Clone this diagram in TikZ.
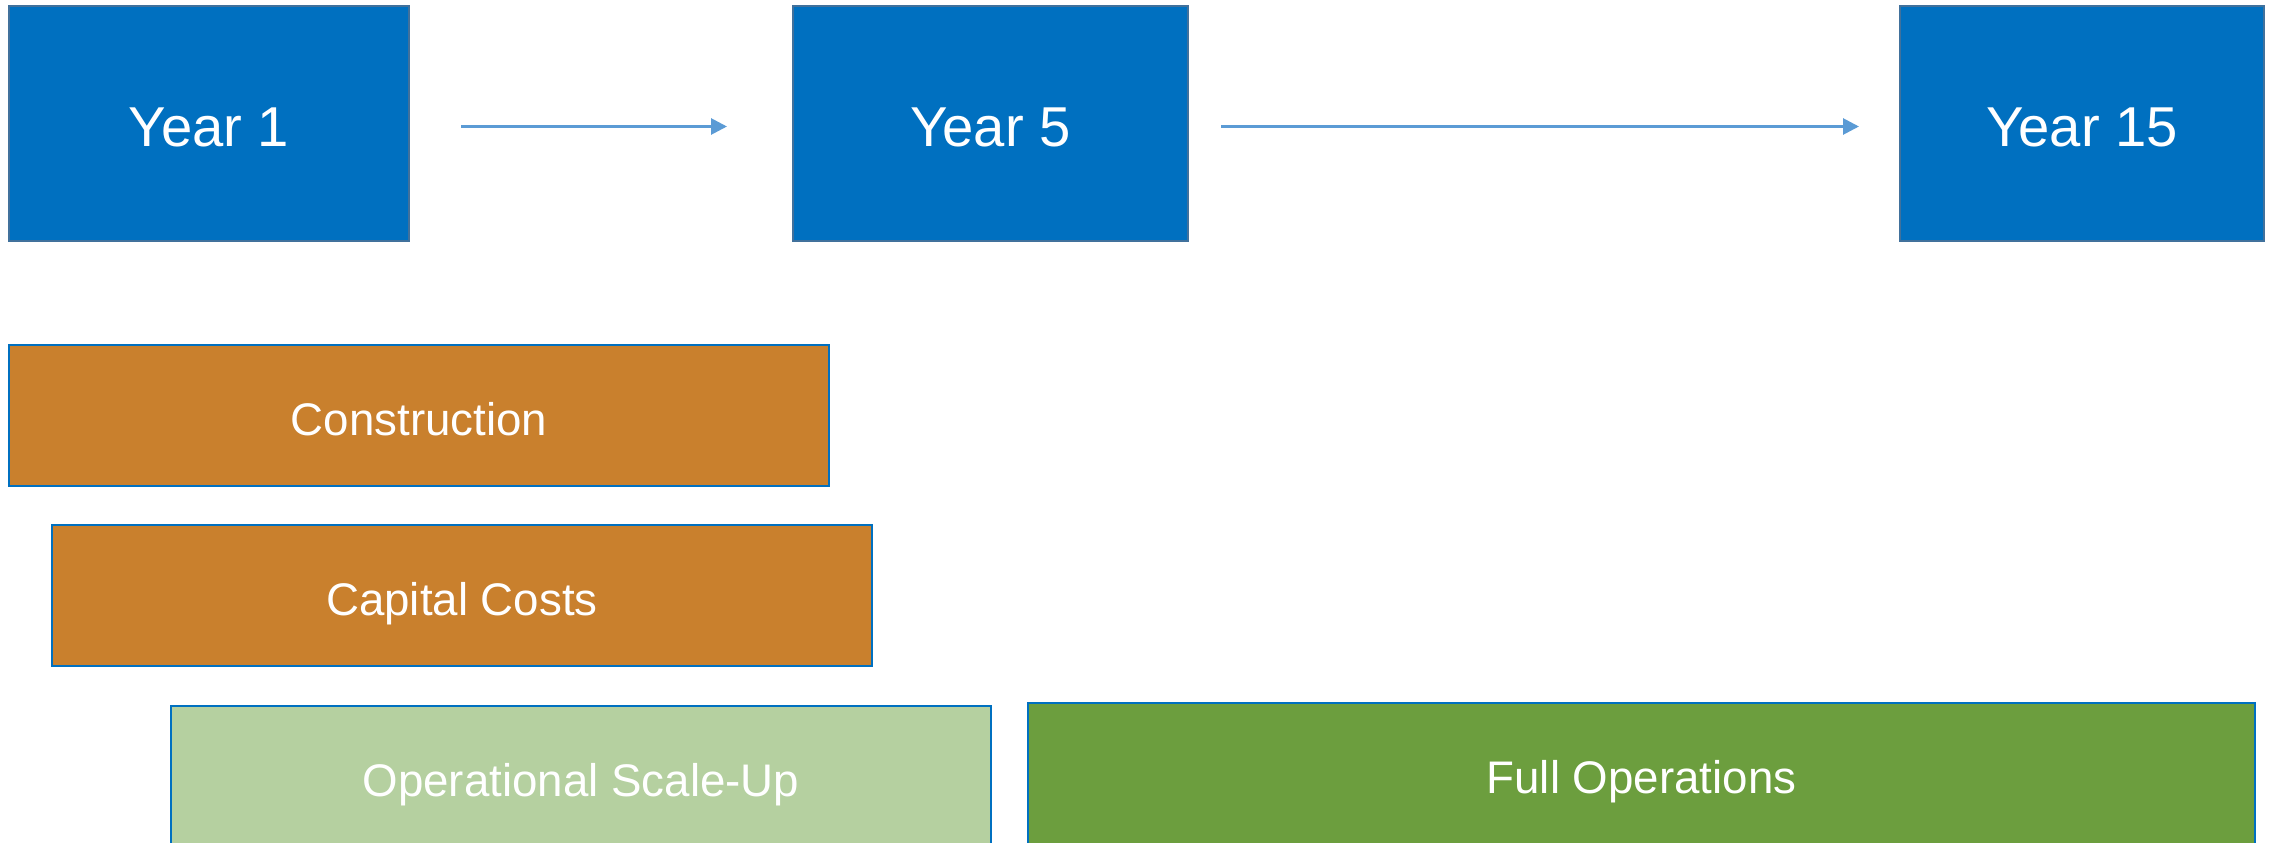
\documentclass[tikz,border=0pt]{standalone}
\usepackage{fontspec}
\setmainfont{Liberation Sans}
\usepackage{xcolor}
\usetikzlibrary{shapes,arrows.meta,positioning}

\definecolor{yearblue}{RGB}{0,112,192}
\definecolor{yearedge}{RGB}{65,113,156}
\definecolor{arrowblue}{RGB}{91,155,213}
\definecolor{buildorange}{RGB}{201,128,45}
\definecolor{rampgreen}{RGB}{181,208,160}
\definecolor{opsgreen}{RGB}{108,158,62}

\begin{document}
\begin{tikzpicture}[
    yearbox/.style={rectangle, draw=yearedge, line width=0.4pt, fill=yearblue, text=white, font=\fontsize{16}{19}\selectfont, text height=13pt, text depth=0pt, minimum height=2.35cm, inner sep=0pt, outer sep=0pt},
    phase/.style={rectangle, draw=yearblue, line width=0.6pt, text=white, font=\fontsize{13}{16}\selectfont, text height=11.3pt, text depth=0pt, minimum width=8.2cm, minimum height=1.41cm, inner sep=0pt, outer sep=0pt},
    arrow/.style={draw=arrowblue, line width=0.8pt, -{Triangle[length=0.16cm,width=0.16cm]}, transform canvas={yshift=-0.03cm}}
]
    \useasboundingbox (0,0) rectangle (22.74,-8.43);
    \clip (0,0) rectangle (22.74,-8.43);

    % timeline
    \node[yearbox, minimum width=4cm, anchor=north west] (y1) at (0.09,-0.06) {Year 1};
    \node[yearbox, minimum width=3.95cm, right=3.84cm of y1] (y5) {Year 5};
    \node[yearbox, minimum width=3.64cm, right=7.12cm of y5] (y15) {Year 15};

    \draw[arrow, shorten <=0.52cm, shorten >=0.66cm] (y1) -- (y5);
    \draw[arrow, shorten <=0.33cm, shorten >=0.41cm] (y5) -- (y15);

    % phases
    \node[phase, fill=buildorange, anchor=north west] (build) at (0.09,-3.45) {Construction};
    \node[phase, fill=buildorange, below=0.39cm of build.south west, anchor=north west, xshift=0.43cm] (capex) {Capital Costs};
    \node[phase, fill=rampgreen, below=0.4cm of capex.south west, anchor=north west, xshift=1.19cm] (ramp) {Operational Scale-Up};
    \node[phase, fill=opsgreen, minimum width=12.27cm, right=0.37cm of ramp.north east, anchor=north west, yshift=0.03cm] (fullops) {Full Operations};
\end{tikzpicture}
\end{document}
